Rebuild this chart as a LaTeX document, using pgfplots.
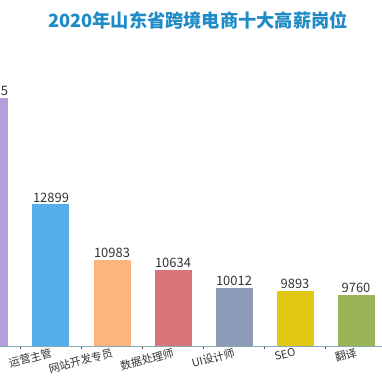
\documentclass[border=0pt]{standalone}
\usepackage{pgfplots}
\pgfplotsset{compat=1.18}
\usepackage{fontspec}
\setmainfont{Noto Sans CJK SC}
\newfontfamily\cjk{Noto Sans CJK SC}
\definecolor{c0}{HTML}{B49FDC}
\definecolor{c1}{HTML}{56AEEC}
\definecolor{c2}{HTML}{FDB47F}
\definecolor{c3}{HTML}{D8767C}
\definecolor{c4}{HTML}{8D9AB8}
\definecolor{c5}{HTML}{E2C713}
\definecolor{c6}{HTML}{99B558}
\definecolor{titleblue}{HTML}{1E8AC6}
\definecolor{axisc}{HTML}{86AAB4}
\definecolor{txt}{HTML}{333333}
\begin{document}
\begin{tikzpicture}
\begin{axis}[
  at={(0bp,36bp)}, anchor=south west,
  scale only axis, width=382bp, height=346bp,
  xmin=0.164, xmax=6.426, ymin=8000, ymax=19972,
  clip=false,
  axis y line=none, axis x line*=bottom,
  axis line style={draw=axisc, line width=1bp},
  ybar, bar width=37bp,
  xtick={0,...,6},
  xticklabels={,运营主管,网站开发专员,数据处理师,UI设计师,SEO,翻译},
  major tick length=0pt,
  minor x tick num=1, minor tick length=3bp,
  tick align=outside,
  minor tick style={draw=black!70, line width=0.8bp},
  xticklabel style={rotate=15, anchor=north east, font=\cjk\fontsize{11}{12}\selectfont, text=txt, inner sep=1bp},
  nodes near coords,
  nodes near coords style={font=\cjk\fontsize{13}{14}\selectfont, text=txt, inner sep=2bp},
  /pgf/number format/.cd, 1000 sep={}, assume math mode=true,
]
\addplot[fill=c0, draw=none, bar shift=0pt] coordinates {(0,16585)};
\addplot[fill=c1, draw=none, bar shift=0pt] coordinates {(1,12899)};
\addplot[fill=c2, draw=none, bar shift=0pt] coordinates {(2,10983)};
\addplot[fill=c3, draw=none, bar shift=0pt] coordinates {(3,10634)};
\addplot[fill=c4, draw=none, bar shift=0pt] coordinates {(4,10012)};
\addplot[fill=c5, draw=none, bar shift=0pt] coordinates {(5,9893)};
\addplot[fill=c6, draw=none, bar shift=0pt] coordinates {(6,9760)};
\end{axis}
\node[font=\cjk\bfseries\fontsize{18.3}{20}\selectfont, text=titleblue] at (198bp,362bp) {2020年山东省跨境电商十大高薪岗位};
\pgfresetboundingbox
\useasboundingbox (0bp,0bp) rectangle (382bp,382bp);
\end{tikzpicture}
\end{document}
